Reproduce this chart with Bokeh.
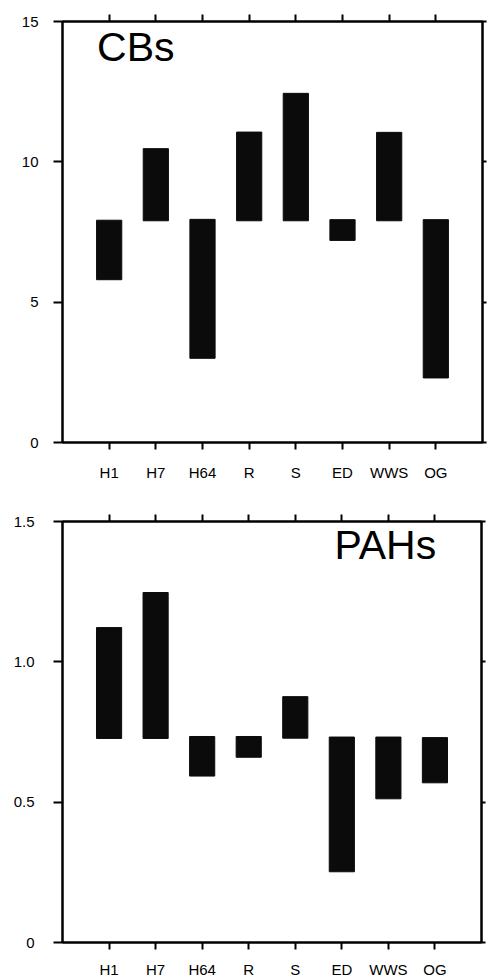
from bokeh.plotting import figure
from bokeh.models import Range1d, FixedTicker, LinearAxis, Label
from bokeh.layouts import column
from bokeh.embed import file_html
from bokeh.resources import INLINE

# ---- data ----
categories = ["H1", "H7", "H64", "R", "S", "ED", "WWS", "OG"]
cbs_low = [5.8, 7.9, 3.0, 7.9, 7.9, 7.2, 7.9, 2.3]
cbs_high = [7.92, 10.47, 7.95, 11.06, 12.44, 7.94, 11.05, 7.94]
pahs_low = [0.727, 0.727, 0.593, 0.660, 0.728, 0.252, 0.512, 0.569]
pahs_high = [1.122, 1.247, 0.734, 0.734, 0.876, 0.732, 0.732, 0.730]
cbs_yticks = [0, 5, 10, 15]
cbs_ylabels = ["0", "5", "10", "15"]
pahs_yticks = [0, 0.5, 1.0, 1.5]
pahs_ylabels = ["0", "0.5", "1.0", "1.5"]

FONT = "Liberation Sans"
LW = 2


def panel(low, high, ymax, yticks, ylabels, title, tx, ty, left, top, bottom,
          fw, right, x_standoff, y_standoff):
    xs = list(range(1, len(categories) + 1))
    p = figure(frame_width=fw, frame_height=421,
               x_range=Range1d(0, len(categories) + 1),
               y_range=Range1d(0, ymax),
               min_border_left=left, min_border_right=right,
               min_border_top=top, min_border_bottom=bottom,
               output_backend="svg", toolbar_location=None,
               background_fill_color="white", border_fill_color="white")
    p.grid.visible = False
    p.outline_line_color = "black"
    p.outline_line_width = LW

    p.vbar(x=xs, bottom=low, top=high, width=0.54,
           fill_color="#0b0b0b", line_color="#0b0b0b")

    xover = {x: c for x, c in zip(xs, categories)}
    yover = {t: l for t, l in zip(yticks, ylabels)}

    # bottom axis
    xa = p.xaxis[0]
    xa.ticker = FixedTicker(ticks=xs)
    xa.major_label_overrides = xover
    xa.major_label_text_font = FONT
    xa.major_label_text_font_size = "15px"
    xa.major_label_text_color = "black"
    xa.major_label_standoff = x_standoff
    xa.major_tick_in = 0
    xa.major_tick_out = 7
    xa.minor_tick_line_color = None
    xa.axis_line_width = LW
    xa.major_tick_line_width = LW

    # left axis
    ya = p.yaxis[0]
    ya.ticker = FixedTicker(ticks=yticks)
    ya.major_label_overrides = yover
    ya.major_label_text_font = FONT
    ya.major_label_text_font_size = "15px"
    ya.major_label_text_color = "black"
    ya.major_label_standoff = y_standoff
    ya.major_tick_in = 0
    ya.major_tick_out = 9
    ya.minor_tick_line_color = None
    ya.axis_line_width = LW
    ya.major_tick_line_width = LW

    # top axis (ticks only)
    ta = LinearAxis(ticker=FixedTicker(ticks=xs), major_label_text_font_size="1px",
                    major_label_text_color=None,
                    major_label_standoff=0, major_tick_in=0, major_tick_out=7,
                    minor_tick_line_color=None, axis_line_width=LW,
                    major_tick_line_color="black", major_tick_line_width=LW)
    p.add_layout(ta, "above")

    # right axis (ticks only)
    ra = LinearAxis(ticker=FixedTicker(ticks=yticks), major_label_text_font_size="1px",
                    major_label_text_color=None,
                    major_label_standoff=0, major_tick_in=0, major_tick_out=4,
                    minor_tick_line_color=None, axis_line_width=LW,
                    major_tick_line_color="black", major_tick_line_width=LW)
    p.add_layout(ra, "right")

    p.add_layout(Label(x=tx, y=ty, text=title, text_font=FONT,
                       text_font_size="41px", text_color="black",
                       text_baseline="middle", text_align="left"))
    return p


p1 = panel(cbs_low, cbs_high, 15, cbs_yticks, cbs_ylabels, "CBs", 0.74, 14.08,
           left=62, top=21, bottom=56, fw=420, right=5, x_standoff=14, y_standoff=15)
p2 = panel(pahs_low, pahs_high, 1.5, pahs_yticks, pahs_ylabels, "PAHs", 5.84, 1.418,
           left=60, top=23, bottom=37, fw=419, right=8, x_standoff=11, y_standoff=19)

layout = column(p1, p2, spacing=0)
open("out.html", "w").write(file_html(layout, INLINE))
